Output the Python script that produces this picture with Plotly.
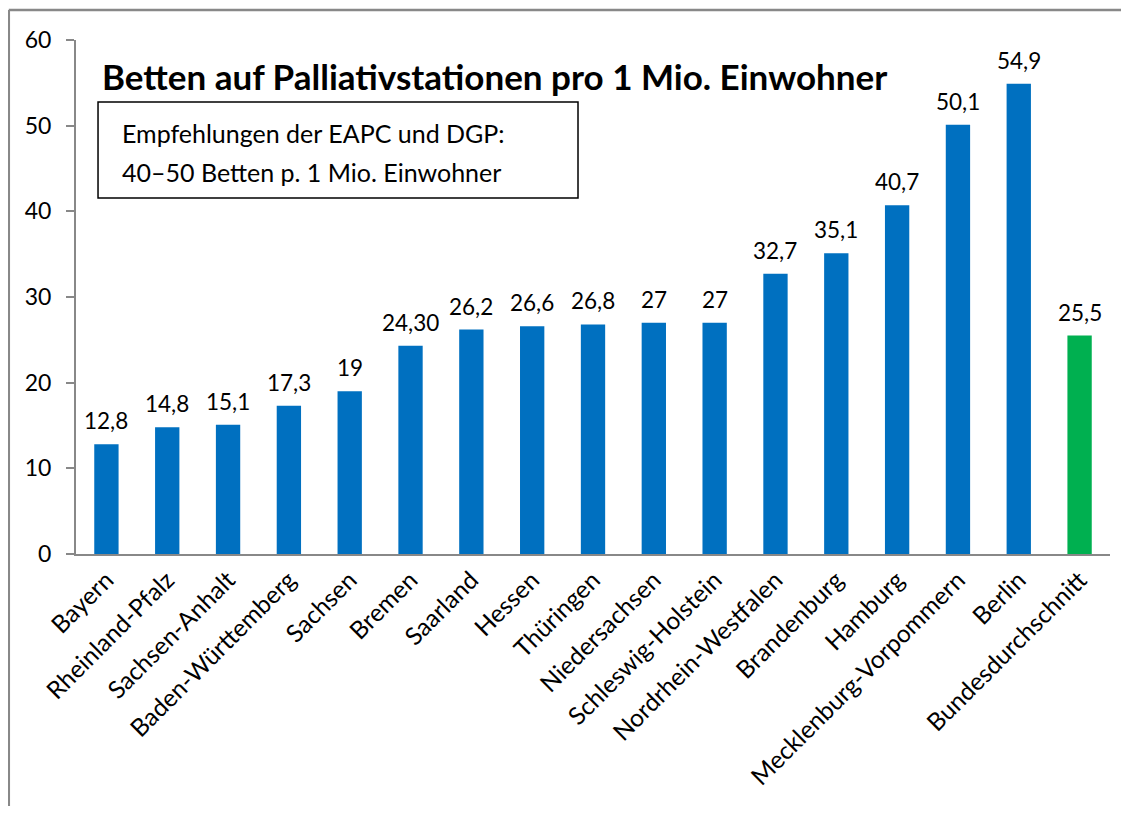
import plotly.graph_objects as go

categories = ["Bayern", "Rheinland-Pfalz", "Sachsen-Anhalt", "Baden-Württemberg", "Sachsen",
              "Bremen", "Saarland", "Hessen", "Thüringen", "Niedersachsen", "Schleswig-Holstein",
              "Nordrhein-Westfalen", "Brandenburg", "Hamburg", "Mecklenburg-Vorpommern", "Berlin",
              "Bundesdurchschnitt"]
values = [12.8, 14.8, 15.1, 17.3, 19, 24.3, 26.2, 26.6, 26.8, 27, 27, 32.7, 35.1, 40.7, 50.1, 54.9, 25.5]
value_labels = ["12,8", "14,8", "15,1", "17,3", "19", "24,30", "26,2", "26,6", "26,8", "27", "27",
                "32,7", "35,1", "40,7", "50,1", "54,9", "25,5"]
colors = ["#0070C0"] * 16 + ["#00B050"]

FONT = "Lato"

fig = go.Figure()
fig.add_trace(go.Bar(x=categories, y=values, marker=dict(color=colors, line=dict(width=0)),
                     hoverinfo="skip"))

for c, v, t in zip(categories, values, value_labels):
    fig.add_annotation(x=c, y=v, text=t, showarrow=False, yanchor="bottom", yshift=8,
                       font=dict(family=FONT, size=22.5, color="black"))

# title
fig.add_annotation(xref="paper", yref="paper", x=0.0232, y=0.930, xanchor="left", yanchor="middle",
                   text="<b>Betten auf Palliativstationen pro 1 Mio. Einwohner</b>", showarrow=False,
                   font=dict(family=FONT, size=35, color="black"))
# recommendation box
fig.add_shape(type="rect", xref="paper", yref="paper", x0=0.0213, x1=0.4855, y0=0.6926, y1=0.8794,
              line=dict(color="black", width=1.5), fillcolor="white")
fig.add_annotation(xref="paper", yref="paper", x=0.0426, y=0.819, xanchor="left", yanchor="middle",
                   text="Empfehlungen der EAPC und DGP:", showarrow=False,
                   font=dict(family=FONT, size=25, color="black"))
fig.add_annotation(xref="paper", yref="paper", x=0.0426, y=0.743, xanchor="left", yanchor="middle",
                   text="40–50 Betten p. 1 Mio. Einwohner", showarrow=False,
                   font=dict(family=FONT, size=25, color="black"))
# outer frame: only top and left edges are visible in the reference
fig.add_shape(type="line", xref="paper", yref="paper", x0=-0.0650, x1=1.2, y0=1.0584, y1=1.0584,
              line=dict(color="#888888", width=2.5), layer="below")
fig.add_shape(type="line", xref="paper", yref="paper", x0=-0.0650, x1=-0.0650, y0=-0.7, y1=1.0584,
              line=dict(color="#888888", width=2.5), layer="below")

fig.update_layout(
    width=1113, height=798,
    margin=dict(l=68, r=11, t=32, b=252),
    paper_bgcolor="white", plot_bgcolor="white",
    bargap=0.6, showlegend=False,
    font=dict(family=FONT, size=20, color="black"),
)
fig.update_xaxes(tickangle=-45, showline=True, linecolor="#888888", linewidth=2,
                 ticks="", tickfont=dict(family=FONT, size=24.5, color="black"), showgrid=False)
fig.update_yaxes(range=[0, 60], dtick=10, showline=True, linecolor="#888888", linewidth=2,
                 ticks="outside", ticklen=8, tickcolor="#888888", tickwidth=2, showgrid=False,
                 zeroline=False, tickfont=dict(family=FONT, size=23, color="black"), ticklabelstandoff=10)

fig.write_html("out.html")
